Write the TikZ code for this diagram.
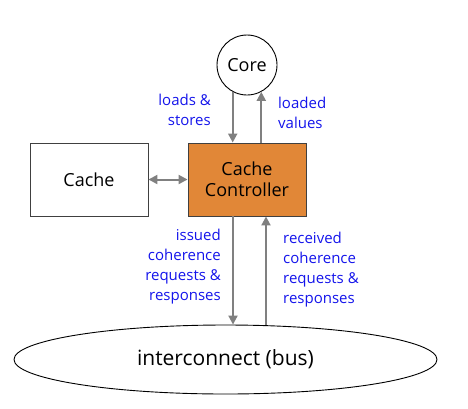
\documentclass[tikz,border=0pt]{standalone}
\usepackage{fontspec}
\setmainfont{Open Sans}
\usetikzlibrary{positioning, arrows.meta, calc, shapes.geometric}
\definecolor{cOr}{RGB}{225,135,55}
\definecolor{cAr}{RGB}{128,128,128}
\definecolor{cLb}{RGB}{20,20,235}

\tikzset{
    unit/.style={draw=black!75, line width=0.9pt, minimum width=118pt, minimum height=73pt, font=\fontsize{18}{21}\selectfont},
    flow/.style={draw=cAr, line width=2pt, -{Triangle[length=9pt,width=9pt]}},
    note/.style={text=cLb, font=\fontsize{15}{20}\selectfont, inner sep=0pt}
}

\begin{document}
\begin{tikzpicture}[x=1pt, y=-1pt]
    \useasboundingbox (0,0) rectangle (468,408);

    % Core and the two boxes
    \node[circle, draw, line width=0.9pt, minimum size=60pt, inner sep=0pt, font=\fontsize{18}{20}\selectfont] (core) at (247,65) {Core};
    \node[unit] (cache) at (89,179.5) {Cache};
    \node[unit, fill=cOr, align=center] (ctrl) at (247,179.5) {Cache\\Controller};

    % Bus
    \node[ellipse, draw, line width=0.9pt, minimum width=423pt, minimum height=69pt, inner sep=0pt, font=\fontsize{21}{24}\selectfont] (bus) at (225.5,359.5) {interconnect (bus)};

    % Core <-> controller
    \draw[flow] (core.-118) -- (core.-118 |- ctrl.north);
    \draw[flow] (core.-62 |- ctrl.north) -- (core.-62);
    \node[note, anchor=east, align=right] (ls) at (211,110) {loads \&\\stores};
    \node[note, anchor=west, align=left] (lv) at (278,113) {loaded\\values};

    % Cache <-> controller
    \draw[flow, {Triangle[length=9pt,width=9pt]}-{Triangle[length=9pt,width=9pt]}] (cache.east) -- (ctrl.west);

    % Controller <-> bus
    \coordinate (iss) at ($(ctrl.south)+(-14,0)$);
    \coordinate (rcv) at ($(ctrl.south)+(19,0)$);
    \draw[flow] (iss) -- (iss |- bus.north);
    \draw[flow] (rcv |- bus.north) -- (rcv);
    \node[note, anchor=east, align=right] (iq) at (221,267) {issued\\coherence\\requests \&\\responses};
    \node[note, anchor=west, align=left] (rq) at (283,270) {received\\coherence\\requests \&\\responses};
\end{tikzpicture}
\end{document}
